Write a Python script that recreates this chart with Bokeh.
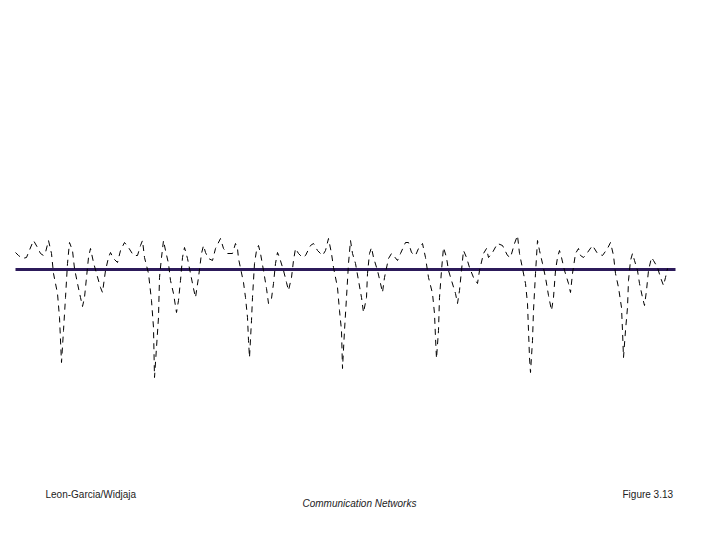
from bokeh.plotting import figure
from bokeh.models import Range1d
from bokeh.embed import file_html
from bokeh.resources import INLINE
from bokeh.core.properties import value

# Speech waveform samples (time units, amplitude units)
t = [0, 3, 7, 11, 13, 18, 22, 25, 28, 30, 33, 36, 38, 42, 44, 46, 48, 50, 52, 54, 57, 59, 62, 65, 67, 69, 71, 73, 75, 78, 81, 85, 87, 90, 93,
     95, 98, 102, 105, 109, 113, 118, 122, 125, 127, 129, 133, 136, 138, 139, 141, 143, 144, 146, 148, 150, 153, 155, 158, 161, 163, 165, 167, 169, 172, 175, 178, 180, 183, 186, 188,
     190, 193, 197, 200, 205, 208, 212, 217, 220, 222, 223, 228, 230, 232, 233, 234, 236, 237, 239, 241, 243, 245, 248, 251, 253, 256, 258, 260, 262, 264, 268, 271, 273, 276, 278, 280,
     283, 287, 290, 295, 298, 302, 307, 310, 313, 316, 318, 322, 324, 326, 327, 329, 331, 333, 335, 337, 340, 343, 346, 348, 351, 352, 354, 356, 358, 362, 365, 367, 369, 373, 376,
     378, 382, 385, 390, 393, 396, 400, 403, 407, 410, 413, 417, 419, 420, 421, 423, 424, 426, 428, 431, 433, 436, 440, 442, 444, 446, 448, 451, 454, 458, 462, 464, 468, 471,
     473, 477, 482, 487, 492, 495, 499, 502, 504, 507, 510, 512, 513, 514, 515, 517, 518, 520, 522, 524, 527, 530, 533, 536, 538, 540, 542, 544, 546, 549, 553, 555, 557, 560, 563,
     565, 568, 572, 577, 582, 587, 592, 595, 598, 600, 603, 606, 607, 608, 610, 612, 613, 615, 617, 619, 622, 624, 627, 629, 631, 633, 636, 638, 642, 645, 648, 650, 652]

amp = [17, 14, 11, 12, 17, 29, 22, 16, 14, 17, 29, 16, -4, -24, -48, -93, -61, -28, 6, 27, 19, 1, -14, -28, -37, -28, -8, 12, 21, 7, -4, -18, -23, -1, 12,
       17, 11, 7, 19, 27, 22, 14, 14, 24, 29, 12, -4, -31, -58, -108, -78, -48, -8, 12, 29, 19, 6, -11, -24, -43, -31, -11, 12, 22, 11, -4, -19, -28, -8, 16, 24,
       17, 11, 9, 21, 31, 21, 16, 16, 26, 21, 11, -13, -28, -48, -71, -88, -51, -28, 6, 19, 24, 16, -1, -19, -34, -29, -14, 6, 17, 12, -1, -13, -21, -8, 9, 21,
       16, 12, 14, 24, 26, 19, 14, 19, 31, 16, 2, -18, -41, -61, -99, -61, -28, 6, 29, 16, 6, -11, -28, -43, -28, -4, 16, 22, 12, -1, -14, -23, -8, 11, 16,
       14, 9, 16, 27, 27, 17, 14, 21, 26, 12, -8, -24, -44, -68, -89, -61, -28, -1, 22, 12, -1, -11, -24, -34, -21, -1, 19, 12, 2, -8, -14, -1, 16, 21,
       12, 17, 26, 24, 14, 12, 26, 34, 16, 1, -14, -34, -61, -88, -103, -71, -41, -4, 29, 19, 6, -8, -26, -41, -28, -1, 12, 19, 12, -1, -14, -23, -4, 16, 21,
       14, 12, 17, 24, 16, 14, 21, 27, 14, -4, -18, -38, -61, -88, -61, -38, -11, 9, 16, 9, -1, -14, -28, -36, -21, -1, 12, 9, 2, -8, -16, -8, 1]

axis_t = [0, 660]
axis_amp = [0, 0]

footer_left = "Leon-Garcia/Widjaja"
footer_center = "Communication Networks"
footer_right = "Figure 3.13"

p = figure(width=704, height=524, output_backend="svg", toolbar_location=None,
           x_range=Range1d(-15, 689), y_range=Range1d(-255, 269),
           min_border=0, min_border_left=0, min_border_right=0,
           min_border_top=0, min_border_bottom=0)
p.axis.visible = False
p.grid.visible = False
p.outline_line_color = None
p.background_fill_color = "white"
p.border_fill_color = "white"

# horizontal time axis
p.line(axis_t, axis_amp, line_color="#2c1a5a", line_width=3)

# dashed waveform
p.line(t, amp, line_color="black", line_width=1, line_dash="6 5")

font = value("Liberation Sans")
p.text(x=[30], y=[-225], text=[footer_left], text_font=font, text_font_size="10px",
       text_color="#222222", text_align="left", text_baseline="middle")
p.text(x=[287], y=[-234], text=[footer_center], text_font=font, text_font_size="10px",
       text_font_style="italic", text_color="#222222", text_align="left", text_baseline="middle")
p.text(x=[607], y=[-225], text=[footer_right], text_font=font, text_font_size="10px",
       text_color="#222222", text_align="left", text_baseline="middle")

open("out.html", "w").write(file_html(p, INLINE))
